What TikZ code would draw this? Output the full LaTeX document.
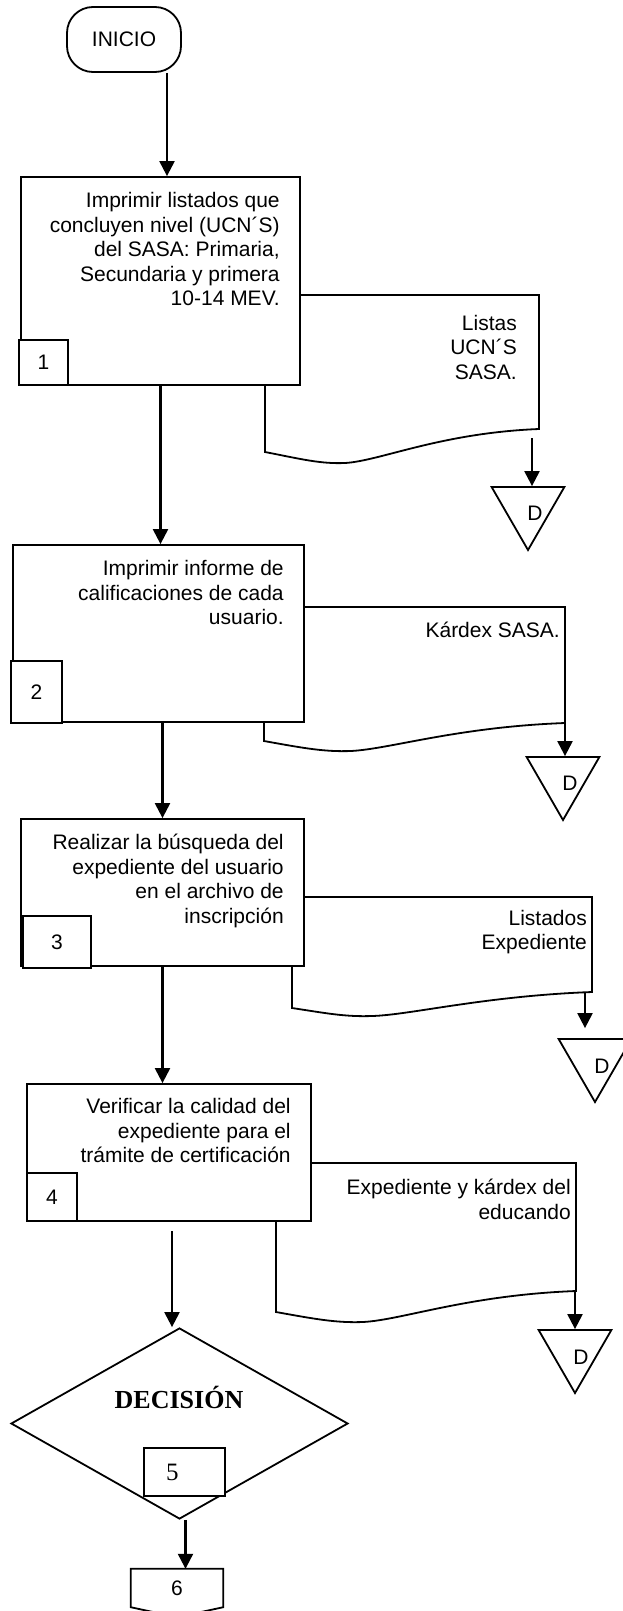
\documentclass[tikz,border=0pt]{standalone}
\usepackage{fontspec}
\setmainfont{Liberation Sans}
\newfontfamily\decfont{Liberation Serif}
\usetikzlibrary{shapes.geometric,arrows.meta}

\begin{document}
\begin{tikzpicture}[x=1pt, y=-1pt,
    every node/.style={font=\fontsize{21}{24.5}\selectfont},
    proc/.style={draw, line width=1.8pt, fill=white, inner sep=0pt},
    numbox/.style={draw, line width=1.8pt, fill=white, inner sep=0pt},
    txt/.style={align=right, inner sep=0pt, anchor=north east},
    doc/.style={draw, line width=1.8pt, fill=white},
    dtri/.style={draw, regular polygon, regular polygon sides=3, shape border rotate=180,
                 minimum size=84pt, inner sep=0pt, line width=1.8pt},
    flow/.style={line width=2.2pt, -{Triangle[length=15pt,width=15pt]}}]
        \useasboundingbox (0,0) rectangle (623,1611);
        \clip (0,0) rectangle (623,1611);

        % Start.
        \node[draw, line width=1.8pt, rounded corners=26pt, minimum width=114pt, minimum height=65pt] (inicio) at (124,39.5) {INICIO};

        % Documents (drawn first, the boxes cover their upper left part).
        \draw[doc] (265,295) -- (265,452) .. controls (301,459) and (320,464) .. (345,463)
            .. controls (380,461) and (440,433) .. (539,429) -- (539,295) -- cycle;
        \draw[doc] (264,607) -- (264,741) .. controls (303,748) and (324,752) .. (351,751)
            .. controls (390,749) and (457,727) .. (565,723) -- (565,607) -- cycle;
        \draw[doc] (292,897) -- (292,1008) .. controls (325,1013) and (345,1017) .. (372,1016)
            .. controls (410,1015) and (484,996) .. (592,992) -- (592,897) -- cycle;
        \draw[doc] (276,1163) -- (276,1312) .. controls (315,1319) and (336,1323) .. (363,1322)
            .. controls (402,1320) and (468,1295) .. (576,1291) -- (576,1163) -- cycle;
        \node[txt] (dt1) at (517,315) {Listas\\UCN´S\\SASA.};
        \node[txt] (dt2) at (560,622) {Kárdex SASA.};
        \node[txt] (dt3) at (587,910) {Listados\\Expediente};
        \node[txt] (dt4) at (571,1179) {Expediente y kárdex del\\educando};

        % Process boxes.
        \node[proc, minimum width=279pt, minimum height=208pt] (box1) at (160.5,281) {};
        \node[proc, minimum width=291pt, minimum height=177pt] (box2) at (158.5,633.5) {};
        \node[proc, minimum width=283pt, minimum height=147pt] (box3) at (162.5,892.5) {};
        \node[proc, minimum width=284pt, minimum height=137pt] (box4) at (169,1152.5) {};

        \node[txt] (t1) at ([shift={(-21,16)}]box1.north east) {Imprimir listados que\\concluyen nivel (UCN´S)\\del SASA: Primaria,\\Secundaria y primera\\10-14 MEV.};
        \node[txt] (t2) at ([shift={(-21,16)}]box2.north east) {Imprimir informe de\\calificaciones de cada\\usuario.};
        \node[txt] (t3) at ([shift={(-21,16)}]box3.north east) {Realizar la búsqueda del\\expediente del usuario\\en el archivo de\\inscripción};
        \node[txt] (t4) at ([shift={(-21,15)}]box4.north east) {Verificar la calidad del\\expediente para el\\trámite de certificación};

        % Step numbers.
        \node[numbox, minimum width=49pt, minimum height=45pt] (n1) at (43.5,362.5) {1};
        \node[numbox, minimum width=51pt, minimum height=62pt] (n2) at (36.5,692) {2};
        \node[numbox, minimum width=68pt, minimum height=52pt] (n3) at (57,942) {3};
        \node[numbox, minimum width=50pt, minimum height=48pt] (n4) at (52,1197) {4};

        % Archive triangles.
        \node[dtri] (d1) at (528,508) {};
        \node[dtri] (d2) at (563,778) {};
        \node[dtri] (d3) at (595,1060) {};
        \node[dtri] (d4) at (575,1351) {};
        \node (d1t) at ([shift={(7,5)}]d1.center) {D};
        \node (d2t) at ([shift={(7,5)}]d2.center) {D};
        \node (d3t) at ([shift={(7,6)}]d3.center) {D};
        \node (d4t) at ([shift={(6,6)}]d4.center) {D};

        % Decision.
        \node[draw, diamond, line width=1.8pt, minimum width=337pt, minimum height=191pt, inner sep=0pt] (dec) at (179.5,1423.5) {};
        \node[font=\decfont\bfseries\fontsize{26}{30}\selectfont] (dect) at (179,1397) {DECISIÓN};
        \node[numbox, font=\decfont\fontsize{25}{30}\selectfont, text width=37pt, align=left, inner xsep=22pt, minimum height=48pt] (n5) at (184.5,1472) {5};

        % Connector to page 6.
        \node[minimum width=92pt, minimum height=38pt, inner sep=0pt] (p6) at (177,1588) {6};
        \draw[line width=1.8pt] (p6.north west) -- (p6.north east) -- (p6.south east)
            -- ([yshift=-10pt]p6.south) -- (p6.south west) -- cycle;

        % Flow.
        \coordinate (a1) at (532,438);
        \coordinate (a2) at (565,723);
        \coordinate (a3) at (585,992);
        \coordinate (a4) at (575,1291);
        \coordinate (c4) at (172,1231);
        \draw[flow] ([xshift=43pt]inicio.south) -- ([xshift=43pt]inicio.south |- box1.north);
        \draw[flow] (box1.south) -- (box1.south |- box2.north);
        \draw[flow] (box2.south -| box3.north) -- (box3.north);
        \draw[flow] (box3.south) -- (box3.south |- box4.north);
        \draw[flow] (c4) -- (c4 |- dec.north);
        \draw[flow] ([xshift=6pt]dec.south) -- ([xshift=6pt]dec.south |- p6.north);

        \draw[flow] (a1) -- (a1 |- d1.north);
        \draw[flow] (a2) -- (a2 |- d2.north);
        \draw[flow] (a3) -- ([yshift=10pt]a3 |- d3.north);
        \draw[flow] (a4) -- (a4 |- d4.north);

\end{tikzpicture}
\end{document}
